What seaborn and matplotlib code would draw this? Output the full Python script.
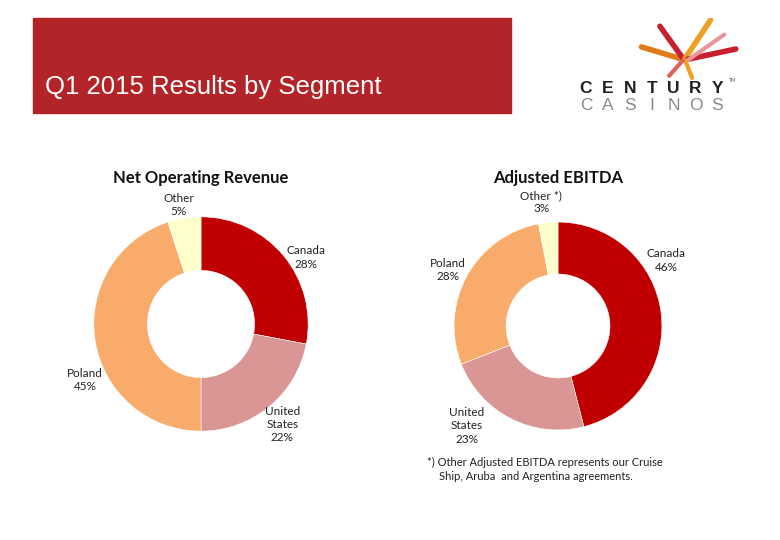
import matplotlib
matplotlib.use("Agg")
import matplotlib.pyplot as plt
from matplotlib.patches import Rectangle
import seaborn as sns

# segment data
segments = ["Canada", "United\nStates", "Poland", "Other"]
revenue_pct = [28, 22, 45, 5]
ebitda_pct = [46, 23, 28, 3]
ebitda_names = ["Canada", "United\nStates", "Poland", "Other *)"]

seg_colors = ["#C00000", "#DA9694", "#F9AB6B", "#FFFFCC"]

sns.set_theme(style="white")
plt.rcParams["font.family"] = ["Lato", "DejaVu Sans"]

fig = plt.figure(figsize=(7.8, 5.4), dpi=100)

# header banner
fig.patches.append(Rectangle((33 / 780, 1 - 113 / 540), 478 / 780, 95 / 540,
                             transform=fig.transFigure, color="#B32428", zorder=0))
fig.text(45 / 780, 1 - 94 / 540, "Q1 2015 Results by Segment", color="white",
         fontsize=18.5, family="Liberation Sans", va="baseline")

# logo (rough): spaced letters + brush strokes
for i, ch in enumerate("CENTURY"):
    fig.text((586 + i * 21.9) / 780, 1 - 93 / 540, ch, family="Liberation Sans",
             fontweight="bold", fontsize=12.5, color="#231F20", ha="center", va="baseline")
for i, ch in enumerate("CASINOS"):
    fig.text((586 + i * 21.9) / 780, 1 - 110 / 540, ch, family="Liberation Sans",
             fontsize=12.5, color="#8A8A8A", ha="center", va="baseline")
fig.text(729 / 780, 1 - 82 / 540, "TM", fontsize=3.5, color="#555555")
logo = fig.add_axes([630 / 780, 1 - 80 / 540, 115 / 780, 62 / 540])
logo.set_xlim(0, 100)
logo.set_ylim(0, 60)
logo.axis("off")
strokes = [((46, 20), (10, 32), "#E07B1A", 4), ((46, 21), (26, 52), "#C8202F", 4),
           ((48, 21), (70, 58), "#F0A020", 4), ((50, 20), (92, 30), "#C8202F", 4),
           ((50, 19), (82, 44), "#E8959A", 3), ((48, 19), (54, 2), "#F0A020", 3),
           ((46, 19), (34, 4), "#E06060", 3)]
for (x0, y0), (x1, y1), c, w in strokes:
    logo.plot([x0, x1], [y0, y1], color=c, lw=w, solid_capstyle="round")


def donut(rect, values, names, label_xy, title, title_y):
    ax = fig.add_axes(rect)
    wedges, texts = ax.pie(values, labels=names, colors=seg_colors, startangle=90,
                           counterclock=False, radius=1,
                           wedgeprops=dict(width=0.5, edgecolor="white", linewidth=0.4),
                           textprops=dict(fontsize=8.5, color="#222222"))
    for t, v, name, xy in zip(texts, values, names, label_xy):
        t.set_text(f"{name}\n{v}%")
        t.set_position(xy)
        t.set_ha("center")
        t.set_va("center")
        t.set_linespacing(1.25)
    ax.set_xlim(-1.4, 1.4)
    ax.set_ylim(-1.4, 1.4)
    ax.set_aspect("equal")
    fig.text(rect[0] + rect[2] / 2, title_y, title, ha="center", va="center",
             fontsize=12, fontweight="bold", color="#111111")
    return ax


donut([51 / 780, 66 / 540, 300 / 780, 300 / 540], revenue_pct, segments,
      [(0.98, 0.62), (0.76, -0.94), (-1.08, -0.52), (-0.21, 1.11)],
      "Net Operating Revenue", 1 - 178 / 540)

donut([412.5 / 780, 68.5 / 540, 291 / 780, 291 / 540], ebitda_pct, ebitda_names,
      [(1.04, 0.63), (-0.88, -0.96), (-1.06, 0.54), (-0.16, 1.19)],
      "Adjusted EBITDA", 1 - 178 / 540)

fig.text(427 / 780, 1 - 462 / 540, "*) Other Adjusted EBITDA represents our Cruise",
         fontsize=8, color="#222222", va="center")
fig.text(439 / 780, 1 - 477 / 540, "Ship, Aruba  and Argentina agreements.",
         fontsize=8, color="#222222", va="center")

fig.savefig("out.png", dpi=100, facecolor="white")
